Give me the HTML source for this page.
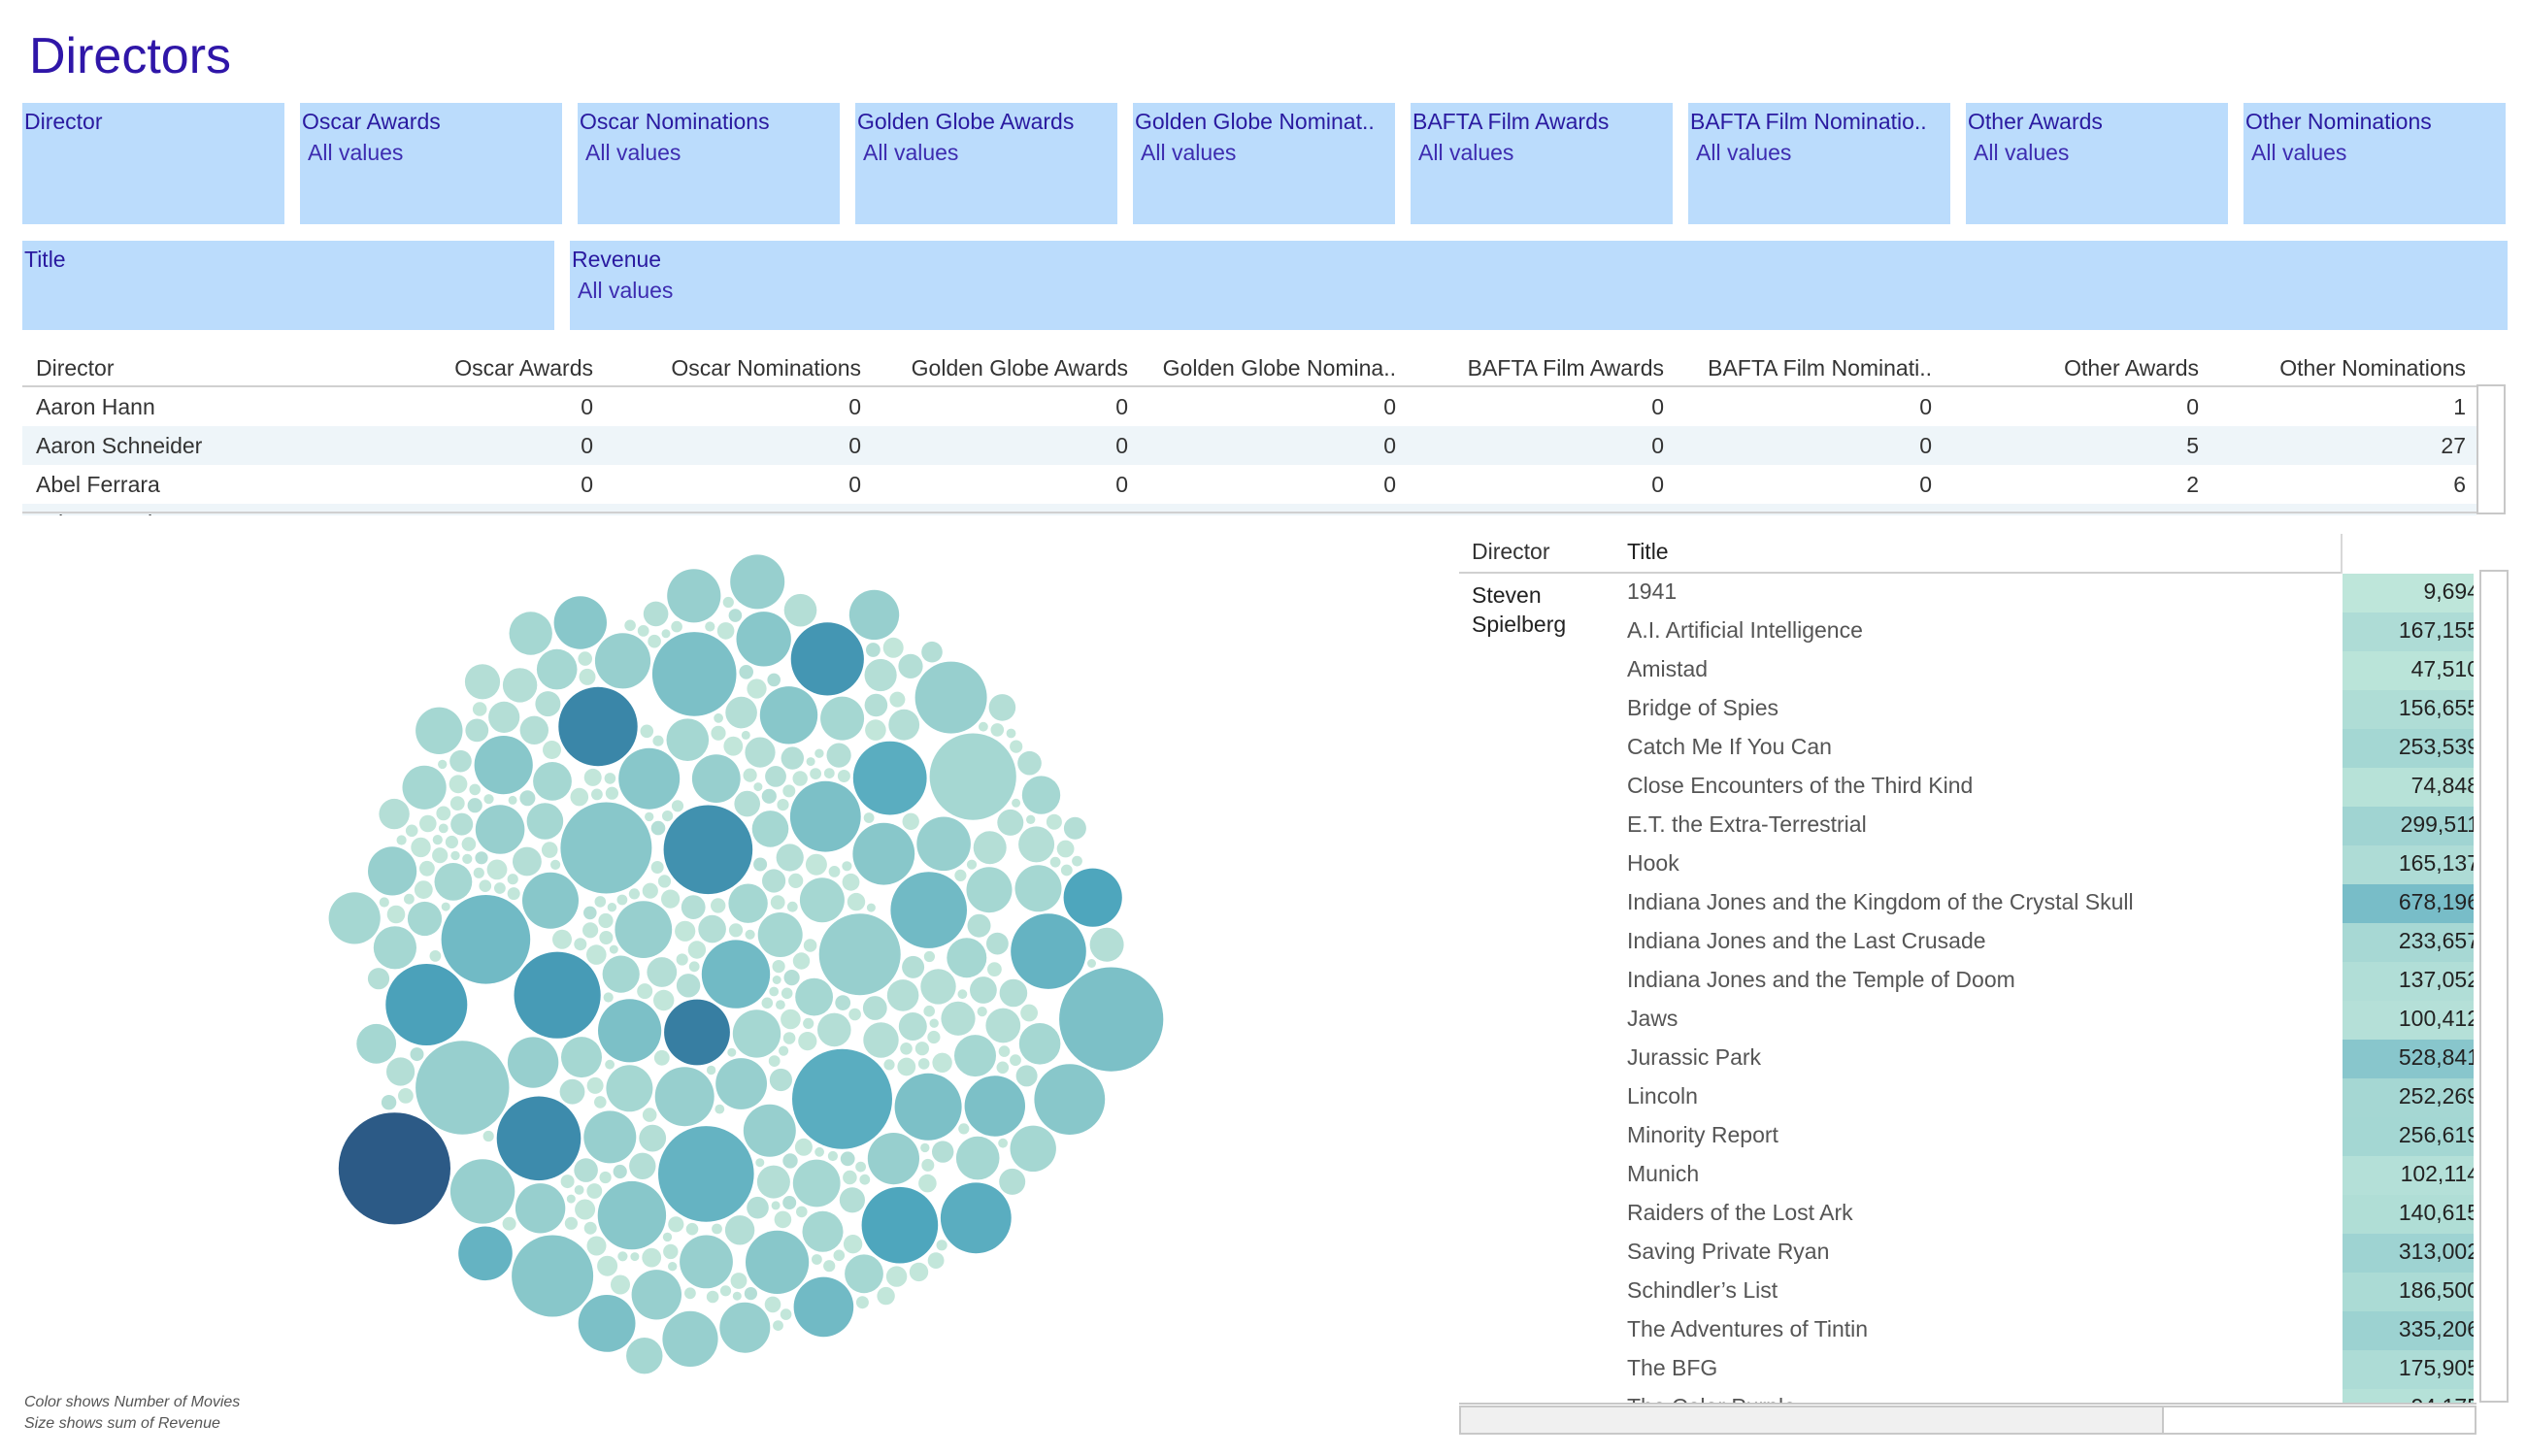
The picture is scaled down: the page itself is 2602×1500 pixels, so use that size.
<!DOCTYPE html>
<html><head><meta charset="utf-8">
<style>
html,body{margin:0;padding:0;background:#fff;}
body{width:2602px;height:1500px;position:relative;overflow:hidden;font-family:"Liberation Sans",sans-serif;}
.abs{position:absolute;}
.title{left:30px;top:28px;font-size:52px;color:#2f16a8;}
.filter{position:absolute;background:#bbdcfc;color:#2a1aa0;box-sizing:border-box;}
.filter .lab{position:absolute;left:2px;top:6px;font-size:23px;}
.filter .val{position:absolute;left:8px;top:38px;font-size:23px;color:#3d2cb0;}
.tbl{position:absolute;overflow:hidden;font-size:23px;color:#333;}
.cell{position:absolute;white-space:nowrap;}
</style></head>
<body>
<div class="abs title">Directors</div>
<div id="filters"></div>

<div class="tbl" id="topTable" style="left:23px;top:360px;width:2528px;height:171px;"></div>
<div class="abs" style="left:2551px;top:396px;width:30px;height:134px;border:2px solid #c8c8c8;box-sizing:border-box;"></div>

<svg id="bubbles" class="abs" style="left:0;top:0;" width="1500" height="1500"></svg>
<div class="abs" style="left:25px;top:1436px;font-size:16px;font-style:italic;color:#555;">Color shows Number of Movies</div>
<div class="abs" style="left:25px;top:1458px;font-size:16px;font-style:italic;color:#555;">Size shows sum of Revenue</div>

<div class="tbl" id="movieTable" style="left:1503px;top:550px;width:1048px;height:895px;border-bottom:2px solid #c8c8c8;"></div>
<div class="abs" style="left:2554px;top:587px;width:30px;height:858px;border:2px solid #c8c8c8;box-sizing:border-box;"></div>
<div class="abs" style="left:1503px;top:1448px;width:1048px;height:30px;border:2px solid #c8c8c8;box-sizing:border-box;">
  <div style="position:absolute;left:0;top:0;width:722px;height:26px;background:#f0f0f0;border-right:2px solid #c8c8c8;"></div>
</div>

<script>
// ---------- filters ----------
const filterLabels = ["Director","Oscar Awards","Oscar Nominations","Golden Globe Awards","Golden Globe Nominat..","BAFTA Film Awards","BAFTA Film Nominatio..","Other Awards","Other Nominations"];
const fp = document.getElementById('filters');
filterLabels.forEach((l,i)=>{
  const d=document.createElement('div'); d.className='filter';
  
  
  const x=23+i*286; d.style.left=x+'px'; d.style.top='106px'; d.style.width='270px'; d.style.height='125px';
  d.innerHTML='<div class="lab">'+l+'</div>'+(i>0?'<div class="val">All values</div>':'');
  fp.appendChild(d);
});
[["Title",23,548,false],["Revenue",587,1996,true]].forEach(f=>{
  const d=document.createElement('div'); d.className='filter';
  
  
  d.style.left=f[1]+'px'; d.style.top='248px'; d.style.width=f[2]+'px'; d.style.height='92px';
  d.innerHTML='<div class="lab">'+f[0]+'</div>'+(f[3]?'<div class="val">All values</div>':'');
  fp.appendChild(d);
});

// ---------- top awards table ----------
const awardHeaders = ["Oscar Awards","Oscar Nominations","Golden Globe Awards","Golden Globe Nomina..","BAFTA Film Awards","BAFTA Film Nominati..","Other Awards","Other Nominations"];
const directors = ["Aaron Hann","Aaron Schneider","Abel Ferrara","Adam Brooks"];
const awardValues = [[0,0,0,0,0,0,0,1],[0,0,0,0,0,0,5,27],[0,0,0,0,0,0,2,6],[0,0,0,0,0,0,1,1]];
const colRight = [588,864,1139,1415,1691,1967,2242,2517];
const tt=document.getElementById('topTable');
function addCell(par,txt,x,y,align,name,extra){
  const c=document.createElement('div'); c.className='cell';
  
  
  c.textContent=txt; c.style.top=y+'px';
  if(align==='r'){c.style.right=(parseFloat(par.style.width)-x)+'px';} else c.style.left=x+'px';
  if(extra) Object.assign(c.style,extra);
  par.appendChild(c); return c;
}
addCell(tt,"Director",14,6,'l','header-director');
awardHeaders.forEach((h,i)=>addCell(tt,h,colRight[i],6,'r','header-'+i));
const hl=document.createElement('div'); hl.style.cssText='position:absolute;left:0;top:37px;width:2528px;height:2px;background:#d0d0d0;';
  tt.appendChild(hl);
directors.forEach((d,r)=>{
  const y=39+r*40;
  if(r%2===1){const b=document.createElement('div');b.style.cssText='position:absolute;left:0;top:'+y+'px;width:2528px;height:40px;background:#eef5f9;';
      tt.appendChild(b);}
  addCell(tt,d,14,y+7,'l','row-director');
  awardValues[r].forEach((v,i)=>addCell(tt,String(v),colRight[i],y+7,'r','row-value'));
});
const bl=document.createElement('div'); bl.style.cssText='position:absolute;left:0;top:167px;width:2528px;height:2px;background:#d0d0d0;';
  tt.appendChild(bl);

// ---------- movie table ----------
const titles = ["1941","A.I. Artificial Intelligence","Amistad","Bridge of Spies","Catch Me If You Can","Close Encounters of the Third Kind","E.T. the Extra-Terrestrial","Hook","Indiana Jones and the Kingdom of the Crystal Skull","Indiana Jones and the Last Crusade","Indiana Jones and the Temple of Doom","Jaws","Jurassic Park","Lincoln","Minority Report","Munich","Raiders of the Lost Ark","Saving Private Ryan","Schindler’s List","The Adventures of Tintin","The BFG","The Color Purple"];
const revenues = [9694,167155,47510,156655,253539,74848,299511,165137,678196,233657,137052,100412,528841,252269,256619,102114,140615,313002,186500,335206,175905,94175];
const mt=document.getElementById('movieTable');
addCell(mt,"Director",13,5,'l','header-director');
addCell(mt,"Title",173,5,'l','header-title',{color:'#222'});
const vl=document.createElement('div'); vl.style.cssText='position:absolute;left:908px;top:0;width:2px;height:41px;background:#d8d8d8;';
  mt.appendChild(vl);
const hl2=document.createElement('div'); hl2.style.cssText='position:absolute;left:0;top:39px;width:908px;height:2px;background:#d0d0d0;';
  mt.appendChild(hl2);
addCell(mt,"Steven",13,50,'l','director-name-line1',{color:'#222'});
addCell(mt,"Spielberg",13,80,'l','director-name-line2',{color:'#222'});
const maxRev=Math.max(...revenues), minRev=Math.min(...revenues);
function lerpC(a,b,t){return 'rgb('+a.map((v,i)=>Math.round(v+(b[i]-v)*t)).join(',')+')';}
titles.forEach((t,i)=>{
  const y=41+i*40;
  addCell(mt,t,173,y+5,'l','movie-title',{color:'#555'});
  const c=document.createElement('div');
  
  
  const tv=(revenues[i]-minRev)/(maxRev-minRev);
  c.style.cssText='position:absolute;left:910px;top:'+y+'px;width:135px;height:40px;overflow:hidden;background:'+lerpC([190,230,218],[120,189,200],tv)+';';
  const s=document.createElement('div'); s.style.cssText='position:absolute;right:-6px;top:5px;color:#222;white-space:nowrap;';
  s.textContent=revenues[i].toLocaleString('en-US'); c.appendChild(s); mt.appendChild(c);
});

// ---------- bubble chart ----------
const bubbleRevenue = [
560,23,93,240,38,13,185,67,27,11, 520,51,17,275,34,108,15,390,48,70,
950,52,170,21,800,42,13,240,66,29, 480,26,165,20,315,42,12,135,61,30,
1200,28,90,160,18,420,55,14,260,38, 1000,70,22,330,48,16,150,600,26,11,
900,36,200,12,80,460,30,19,120,700, 1100,45,24,280,14,95,380,33,60,17,
450,14,215,37,88,19,330,54,23,150, 950,18,310,40,110,15,540,27,75,12,
850,62,190,23,350,44,16,130,85,650, 1050,34,20,270,58,140,13,400,31,100,
800,47,210,19,72,320,26,15,160,39, 900,11,88,230,37,560,24,65,14,180,
750,53,17,290,41,120,12,440,68,28, 850,21,250,35,105,16,370,49,78,13,
700,59,145,25,480,30,18,200,43,92, 680,14,260,46,130,22,340,57,19,170,
640,32,82,15,410,27,115,50,12,225, 620,39,18,300,63,155,24,98,36,14,
600,44,205,16,76,360,29,20,125,55, 1300,60,20,140,500,35,10,220,45,800,
1500,40,25,300,15,600,30,180,12,50, 430,33,72,16,255,45,118,28,11,195,
410,40,21,285,58,142,25,83,35,13, 390,47,176,18,69,305,31,22,128,52,
370,24,97,232,39,14,188,64,29,12, 350,56,16,265,36,112,15,345,50,74,
335,28,158,21,298,43,13,138,60,32, 320,15,222,38,86,20,355,53,24,148];
const bubbleMovies = [
7,1,2,3,1,1,3,2,1,1, 18,1,1,3,1,2,1,4,1,2,
14,1,3,1,4,1,1,3,2,1, 6,1,3,1,4,1,1,2,2,1,
9,1,2,3,1,4,1,1,3,1, 5,2,1,4,1,1,2,6,1,1,
12,1,3,1,2,5,1,1,2,7, 8,1,1,4,1,2,5,1,2,1,
5,1,3,1,2,1,4,2,1,2, 7,1,4,1,2,1,6,1,2,1,
15,2,3,1,4,1,1,2,2,9, 4,1,1,3,2,2,1,5,1,2,
11,1,3,1,2,4,1,1,3,1, 3,1,2,3,1,5,1,2,1,3,
16,1,1,4,1,2,1,6,2,1, 6,1,3,1,2,1,4,1,2,1,
10,2,2,1,5,1,1,3,1,2, 8,1,3,1,2,1,4,2,1,3,
13,1,2,1,5,1,2,1,1,3, 4,1,1,4,2,2,1,2,1,1,
9,1,3,1,2,5,1,1,2,2, 6,2,1,3,4,1,1,3,1,5,
27,1,1,4,1,5,1,3,1,1, 7,1,2,1,3,1,2,1,1,3,
10,1,1,4,2,2,1,2,1,1, 6,1,3,1,2,4,1,1,2,1,
4,1,2,3,1,1,3,2,1,1, 8,2,1,3,1,2,1,4,1,2,
5,1,3,1,4,1,1,2,2,1, 3,1,3,1,2,1,4,2,1,2];
const tinyRevenue = [
12,20,9,15,30,11,25,14,9,18, 22,10,16,28,12,9,19,13,24,10,
15,9,21,11,17,26,10,14,9,20, 13,18,9,27,11,15,10,23,12,9,
16,25,10,13,19,9,14,22,11,17, 9,12,20,15,10,29,13,9,18,11,
24,10,14,9,21,16,12,9,19,13, 10,26,15,9,17,11,22,12,9,14,
20,10,13,18,9,25,11,15,12,9, 16,21,10,14,9,19,12,27,11,13];
const tinyMovies = [
1,1,1,1,2,1,1,1,1,1, 2,1,1,2,1,1,1,1,2,1,
1,1,2,1,1,2,1,1,1,1, 1,1,1,2,1,1,1,2,1,1,
1,2,1,1,1,1,1,2,1,1, 1,1,2,1,1,2,1,1,1,1,
2,1,1,1,2,1,1,1,1,1, 1,2,1,1,1,1,2,1,1,1,
2,1,1,1,1,2,1,1,1,1, 1,2,1,1,1,1,1,2,1,1];

function place(b,a,c){
  let dx=b.x-a.x,dy=b.y-a.y,d2=dx*dx+dy*dy,x,y,a2,b2;
  if(d2){a2=a.r+c.r;a2*=a2;b2=b.r+c.r;b2*=b2;
    if(a2>b2){x=(d2+b2-a2)/(2*d2);y=Math.sqrt(Math.max(0,b2/d2-x*x));c.x=b.x-x*dx-y*dy;c.y=b.y-x*dy+y*dx;}
    else{x=(d2+a2-b2)/(2*d2);y=Math.sqrt(Math.max(0,a2/d2-x*x));c.x=a.x+x*dx-y*dy;c.y=a.y+x*dy+y*dx;}
  } else {c.x=a.x+c.r;c.y=a.y;}
}
function inter(a,b){const dr=a.r+b.r-1e-6,dx=b.x-a.x,dy=b.y-a.y;return dr>0&&dr*dr>dx*dx+dy*dy;}
function score(n){const a=n._,b=n.next._,ab=a.r+b.r,dx=(a.x*b.r+b.x*a.r)/ab,dy=(a.y*b.r+b.y*a.r)/ab;return dx*dx+dy*dy;}
function N(c){this._=c;this.next=null;this.previous=null;}
function packSiblings(cs){
  const n=cs.length; let a,b,c,i,j,k,sj,sk,aa,ca;
  a=cs[0];a.x=0;a.y=0; b=cs[1];a.x=-b.r;b.x=a.r;b.y=0;
  place(b,a,c=cs[2]);
  a=new N(a);b=new N(b);c=new N(c);
  a.next=c.previous=b;b.next=a.previous=c;c.next=b.previous=a;
  pack: for(i=3;i<n;++i){
    place(a._,b._,c=cs[i]);c=new N(c);
    j=b.next;k=a.previous;sj=b._.r;sk=a._.r;
    do{
      if(sj<=sk){ if(inter(j._,c._)){b=j;a.next=b;b.previous=a;--i;continue pack;} sj+=j._.r;j=j.next;}
      else{ if(inter(k._,c._)){a=k;a.next=b;b.previous=a;--i;continue pack;} sk+=k._.r;k=k.previous;}
    }while(j!==k.next);
    c.previous=a;c.next=b;a.next=b.previous=b=c;
    aa=score(a);
    while((c=c.next)!==b){if((ca=score(c))<aa){a=c;aa=ca;}}
    b=a.next;
  }
}
const rScale = v => Math.sqrt(v);
const circles=[];
bubbleRevenue.forEach((v,i)=>{
  circles.push({v:v,m:bubbleMovies[i],r:rScale(v)+1.0,r0:rScale(v)});
  if(i%3===1 && tinyRevenue[(i-1)/3]!==undefined){const t=(i-1)/3;
    circles.push({v:tinyRevenue[t],m:tinyMovies[t],r:rScale(tinyRevenue[t])+1.0,r0:rScale(tinyRevenue[t])});}
});
packSiblings(circles);
let ext=0; circles.forEach(c=>{ext=Math.max(ext,Math.hypot(c.x,c.y)+c.r);});
const R=468, cx=758, cy=995, s=R/ext;
const stops=[[1,[194,230,218]],[5,[136,199,202]],[10,[78,166,189]],[16,[58,134,168]],[27,[44,90,134]]];
function colorFor(m){
  for(let i=0;i<stops.length-1;i++){ if(m<=stops[i+1][0]){const t=(m-stops[i][0])/(stops[i+1][0]-stops[i][0]);return lerpC(stops[i][1],stops[i+1][1],Math.max(0,t));}}
  return lerpC(stops[4][1],stops[4][1],0);
}
const svg=document.getElementById('bubbles');
circles.forEach(c=>{
  const el=document.createElementNS('http://www.w3.org/2000/svg','circle');
  
  
  // layout rotated a quarter turn
  el.setAttribute('cx',(cx+c.y*s).toFixed(1));
  el.setAttribute('cy',(cy-c.x*s).toFixed(1));
  el.setAttribute('r',(c.r0*s).toFixed(1));
  el.setAttribute('fill',colorFor(c.m));
  svg.appendChild(el);
});
</script>
</body></html>
